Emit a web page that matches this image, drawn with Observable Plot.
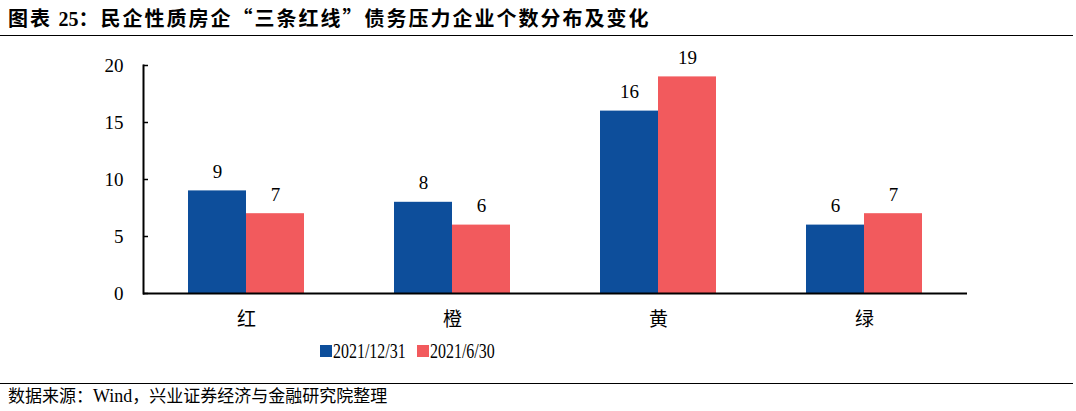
<!DOCTYPE html>
<html lang="zh-CN">
<head>
<meta charset="utf-8">
<script src="https://cdn.jsdelivr.net/npm/d3@7"></script>
<script src="https://cdn.jsdelivr.net/npm/@observablehq/plot@0.6"></script>
<style>
  body { margin: 0; background: #fff; width: 1076px; height: 411px; overflow: hidden; }
  #title { font-family: "Noto Sans CJK SC", sans-serif; font-weight: bold; font-size: 20px; color: #000; letter-spacing: 2px;
           padding: 5px 0 0 8px; height: 30px; border-bottom: 1.5px solid #000; margin: 0 3px 0 0; box-sizing: content-box; line-height: 26px; white-space: nowrap; }
  #title .num { font-family: "Liberation Serif", serif; letter-spacing: 0; }
  #legend { font-family: "Liberation Serif", serif; font-size: 21px; height: 32px; display: flex; align-items: center; padding-left: 320px; }
  #legend .sw { display: inline-block; width: 12px; height: 12px; margin-right: 1px; flex: none; }
  #legend .item { display: flex; align-items: center; width: 97px; overflow: visible; white-space: nowrap; }
  #legend .lbl { display: inline-block; transform: scaleX(0.76); transform-origin: left center; }
  #source { border-top: 1.5px solid #000; margin: 16px 3px 0 0; padding: 1px 0 0 8px; font-family: "Noto Sans CJK SC", sans-serif; font-size: 17px; line-height: 20px; color: #000; }
  #source .w { font-family: "Liberation Serif", serif; font-size: 18px; }
</style>
</head>
<body>
<div id="title"></div>
<div id="chart"></div>
<div id="legend"></div>
<div id="source">数据来源：<span class="w">Wind</span>，兴业证券经济与金融研究院整理</div>
<script>
const titlePrefix = "图表 ";
const titleNumber = "25";
const titleText = "：民企性质房企“三条红线”债务压力企业个数分布及变化";
const categories = ["红", "橙", "黄", "绿"];
const seriesNames = ["2021/12/31", "2021/6/30"];
const values_20211231 = [9, 8, 16, 6];
const values_20210630 = [7, 6, 19, 7];
const colors = ["#0D4E9B", "#F25A5D"];
const yTicks = [0, 5, 10, 15, 20];

const title = document.getElementById("title");
title.appendChild(document.createTextNode(titlePrefix));
const num = document.createElement("span");
num.className = "num";
num.textContent = titleNumber;
title.appendChild(num);
title.appendChild(document.createTextNode(titleText));

const data = [];
categories.forEach((c, i) => {
  data.push({category: c, series: seriesNames[0], value: values_20211231[i]});
  data.push({category: c, series: seriesNames[1], value: values_20210630[i]});
});

const chart = Plot.plot({
  width: 1076,
  height: 299,
  marginLeft: 142,
  marginRight: 108,
  marginTop: 29,
  marginBottom: 42,
  style: {fontFamily: "'Liberation Serif', 'Noto Sans CJK SC', serif", fontSize: "19px", color: "#000", background: "#fff", overflow: "visible"},
  fx: {domain: categories, padding: 0, label: null, axis: null},
  x: {domain: seriesNames, paddingInner: 0, paddingOuter: 0.76, axis: null},
  y: {domain: [0, 20], ticks: yTicks, label: null},
  color: {domain: seriesNames, range: colors},
  marks: [
    Plot.barY(data, {fx: "category", x: "series", y: "value", fill: "series"}),
    Plot.text(data, {fx: "category", x: "series", y: "value", text: d => String(d.value), lineAnchor: "bottom", dy: -13, fontSize: 19, fill: "#000"}),
    Plot.ruleY([0], {stroke: "#000", strokeWidth: 2}),
    Plot.frame({anchor: "left", facetAnchor: "left", stroke: "#000", strokeWidth: 2}),
    Plot.axisY({ticks: yTicks, tickSize: -5, tickPadding: 25, tickFormat: d => String(d), fontSize: 19, strokeWidth: 1.5}),
    Plot.axisFx({domain: categories, anchor: "bottom", label: null, tickSize: 0, tickPadding: 19, fontFamily: "'Noto Sans CJK SC', sans-serif", fontSize: 19})
  ]
});
document.getElementById("chart").appendChild(chart);

const legend = document.getElementById("legend");
seriesNames.forEach((s, i) => {
  const item = document.createElement("span");
  item.className = "item";
  const sw = document.createElement("span");
  sw.className = "sw";
  sw.style.background = colors[i];
  item.appendChild(sw);
  const lbl = document.createElement("span");
  lbl.className = "lbl";
  lbl.textContent = s;
  item.appendChild(lbl);
  legend.appendChild(item);
});
</script>
</body>
</html>
